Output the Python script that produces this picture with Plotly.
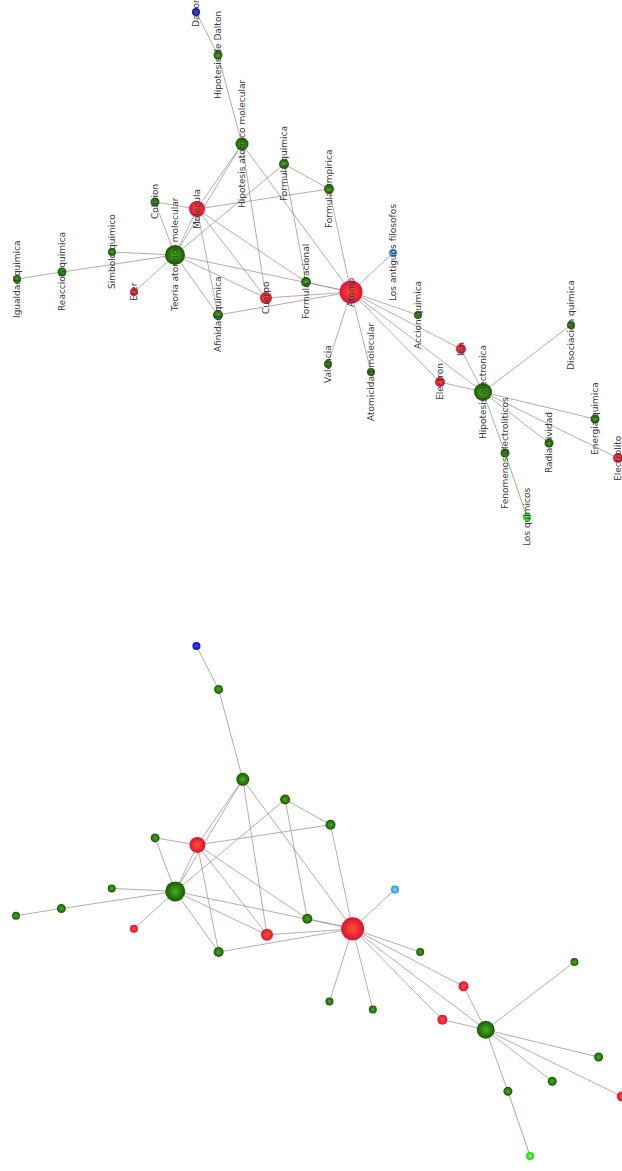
import plotly.graph_objects as go
from plotly.subplots import make_subplots

# ---- data -------------------------------------------------------------
node_names = [
    "Dalton", "Hipotesis de Dalton", "Hipotesis atomico molecular",
    "Formula quimica", "Formula empirica", "Colision", "Molecula",
    "Simbolo quimico", "Teoria atomico molecular", "Reaccion quimica",
    "Igualdad quimica", "Eter", "Cuerpo", "Formula racional",
    "Afinidad quimica", "Atomo", "Los antiguos filosofos", "Valencia",
    "Atomicidad molecular", "Accion quimica", "Ion", "Electron",
    "Hipotesis electronica", "Disociacion quimica", "Energia quimica",
    "Radiactividad", "Fenomenos electroliticos", "Los quimicos", "Electrolito",
]
node_x = [196, 218, 242, 284, 329, 155, 197, 112, 175, 62, 17, 134, 266, 306,
          218, 351, 393, 328, 371, 418, 461, 440, 483, 571, 595, 549, 505, 527, 618]
node_y = [12, 55, 144, 164, 189, 202, 209, 252, 255, 272, 279, 292, 298, 282,
          315, 292, 253, 364, 372, 315, 349, 382, 392, 325, 419, 443, 453, 517, 458]
node_kind = ["blue", "green", "green", "green", "green", "green", "red",
             "green", "green", "green", "green", "red", "red", "green",
             "green", "red", "lightblue", "green", "green", "green", "red", "red",
             "green", "green", "green", "green", "green", "lime", "red"]
node_weight = [8, 9, 13, 10, 10, 9, 16, 8, 20, 9, 8, 8, 12, 10,
               10, 23, 8, 8, 8, 8, 10, 10, 18, 8, 9, 9, 9, 8, 10]

edge_src = [
    "Dalton", "Hipotesis de Dalton", "Hipotesis atomico molecular",
    "Hipotesis atomico molecular", "Hipotesis atomico molecular",
    "Hipotesis atomico molecular", "Formula quimica", "Formula quimica",
    "Formula quimica", "Formula empirica", "Formula empirica", "Colision",
    "Colision", "Molecula", "Molecula", "Molecula", "Molecula",
    "Teoria atomico molecular", "Teoria atomico molecular", "Reaccion quimica",
    "Teoria atomico molecular", "Teoria atomico molecular",
    "Teoria atomico molecular", "Teoria atomico molecular", "Afinidad quimica",
    "Cuerpo", "Formula racional", "Atomo", "Atomo", "Atomo", "Atomo", "Atomo",
    "Atomo", "Atomo", "Ion", "Electron", "Hipotesis electronica",
    "Hipotesis electronica", "Hipotesis electronica", "Hipotesis electronica",
    "Hipotesis electronica", "Fenomenos electroliticos",
]
edge_dst = [
    "Hipotesis de Dalton", "Hipotesis atomico molecular", "Molecula",
    "Teoria atomico molecular", "Cuerpo", "Atomo", "Teoria atomico molecular",
    "Formula empirica", "Formula racional", "Molecula", "Atomo", "Molecula",
    "Teoria atomico molecular", "Teoria atomico molecular", "Afinidad quimica",
    "Cuerpo", "Formula racional", "Simbolo quimico", "Reaccion quimica",
    "Igualdad quimica", "Eter", "Afinidad quimica", "Cuerpo", "Atomo", "Atomo",
    "Atomo", "Atomo", "Los antiguos filosofos", "Valencia",
    "Atomicidad molecular", "Accion quimica", "Ion", "Electron",
    "Hipotesis electronica", "Hipotesis electronica", "Hipotesis electronica",
    "Disociacion quimica", "Energia quimica", "Radiactividad", "Electrolito",
    "Fenomenos electroliticos", "Los quimicos",
]

# ---- styles -----------------------------------------------------------
edge_rim = {"green": "#165a06", "red": "#dc1236", "blue": "#0a0ac8",
            "lightblue": "#2090ee", "lime": "#1cc818"}
center_col = {"green": "#4cae1a", "red": "#ff5230", "blue": "#4a4aff",
              "lightblue": "#9ad6ff", "lime": "#8cff60"}


def edge_color(k1, k2):
    ks = {k1, k2}
    if "lightblue" in ks:
        return "rgba(130,165,210,0.85)"
    if "lime" in ks:
        return "rgba(105,185,95,0.85)"
    if "red" in ks:
        return "rgba(170,135,138,0.72)"
    return "rgba(130,152,124,0.72)"


idx = {n: i for i, n in enumerate(node_names)}

fig = make_subplots(rows=2, cols=1)

groups = {}
for s, d in zip(edge_src, edge_dst):
    i, j = idx[s], idx[d]
    c = edge_color(node_kind[i], node_kind[j])
    g = groups.setdefault(c, ([], []))
    g[0].extend([node_x[i], node_x[j], None])
    g[1].extend([node_y[i], node_y[j], None])

for row in (1, 2):
    for c, (xs, ys) in groups.items():
        fig.add_trace(go.Scatter(x=xs, y=ys, mode="lines",
                                 line=dict(color=c, width=1),
                                 hoverinfo="skip", showlegend=False,
                                 cliponaxis=False), row=row, col=1)
    fig.add_trace(go.Scatter(
        x=node_x, y=node_y, mode="markers", text=node_names,
        hoverinfo="text", showlegend=False, cliponaxis=False,
        marker=dict(size=node_weight, opacity=1,
                    color=[edge_rim[k] for k in node_kind],
                    gradient=dict(type="radial",
                                  color=[center_col[k] for k in node_kind]),
                    line=dict(width=0)),
    ), row=row, col=1)

# rotated labels on the upper network
for n, x, y in zip(node_names, node_x, node_y):
    fig.add_annotation(x=x, y=y, xref="x", yref="y", text=n, showarrow=False,
                       textangle=-90, xanchor="center", yanchor="middle",
                       font=dict(family="DejaVu Sans", size=9, color="#3a3a3a"))

H = 1171
ax = dict(showgrid=False, zeroline=False, showticklabels=False,
          showline=False, ticks="")
fig.update_layout(
    width=622, height=H, margin=dict(l=0, r=0, t=0, b=0),
    paper_bgcolor="white", plot_bgcolor="white",
    xaxis=dict(range=[0, 622], domain=[0, 1], **ax),
    yaxis=dict(range=[585, 0], domain=[1 - 585 / H, 1], **ax),
    xaxis2=dict(range=[1.13, 618.2], domain=[0, 1], **ax),
    yaxis2=dict(range=[531.85, 0.12], domain=[0, (H - 634) / H], **ax),
)

fig.write_html("out.html", config={"displayModeBar": False},
               post_script="document.body.style.margin='0';"
                           "document.body.style.overflow='hidden';")
